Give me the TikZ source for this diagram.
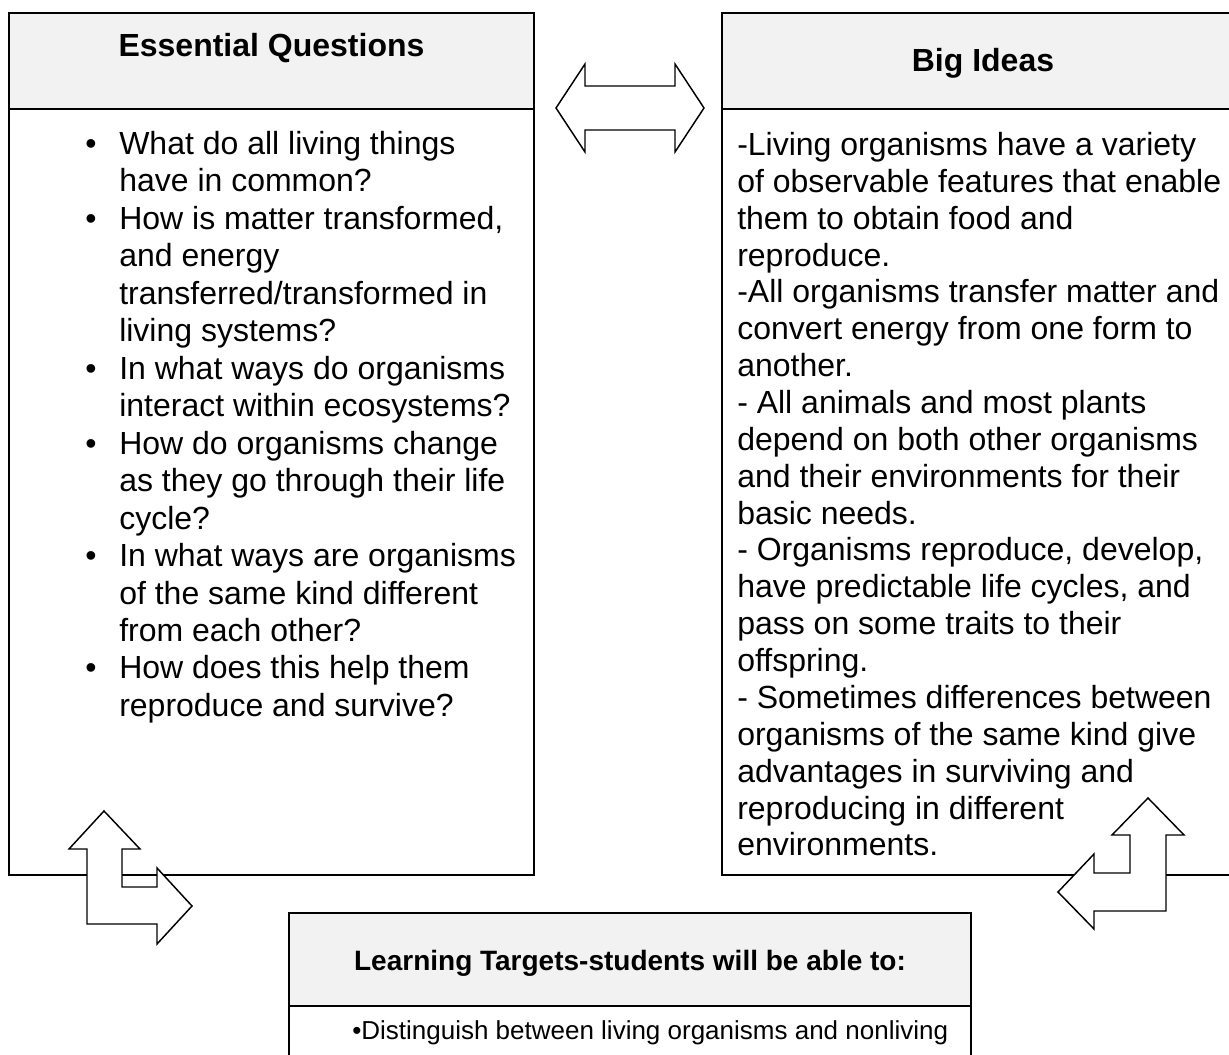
\documentclass[tikz,border=0pt]{standalone}
\usepackage{fontspec}
\setmainfont{Liberation Sans}
\definecolor{hdr}{HTML}{F2F2F2}
\newcommand\eqb{\llap{\textbullet\hspace{17pt}}}
\begin{document}
\begin{tikzpicture}[x=0.75pt,y=-0.75pt,
  panel/.style={draw, line width=1.5pt, inner sep=0pt, fill=none},
  divider/.style={line width=1.5pt},
  blockarrow/.style={draw, fill=white, line width=1.1pt, line join=miter},
  bodytext/.style={anchor=north west, inner sep=0pt, align=left, font=\fontsize{24}{27.65}\selectfont},
  titletext/.style={anchor=base, inner sep=0pt, font=\bfseries\fontsize{24}{28}\selectfont}]
\useasboundingbox (0,0) rectangle (1229,1055);
\clip (0,0) rectangle (1229,1055);
% header fills
\fill[hdr] (9,13) rectangle (534,109);
\fill[hdr] (722,13) rectangle (1245,109);
\fill[hdr] (289,913) rectangle (971,1006);
% panels
\node[panel, minimum width=393.75pt, minimum height=646.5pt] (eq) at (271.5,444) {};
\node[panel, minimum width=392.25pt, minimum height=646.5pt] (bi) at (983.5,444) {};
\node[panel, minimum width=511.5pt, minimum height=140.25pt] (lt) at (630,1006.5) {};
\draw[divider] (eq.west |- 0,109) -- (eq.east |- 0,109);
\draw[divider] (bi.west |- 0,109) -- (bi.east |- 0,109);
\draw[divider] (lt.west |- 0,1006) -- (lt.east |- 0,1006);
% titles
\node[titletext] (eqt) at (271.5,57) {Essential Questions};
\node[titletext] (bit) at (983,72) {Big Ideas};
\node[titletext, font=\bfseries\fontsize{21}{25}\selectfont] (ltt) at (630,970) {Learning Targets-students will be able to:};
% bodies
\node[bodytext, font=\fontsize{24}{28.1}\selectfont] (eqbody) at (119,131) {\eqb What do all living things\\
have in common?\\
\eqb How is matter transformed,\\
and energy\\
transferred/transformed in\\
living systems?\\
\eqb In what ways do organisms\\
interact within ecosystems?\\
\eqb How do organisms change\\
as they go through their life\\
cycle?\\
\eqb In what ways are organisms\\
of the same kind different\\
from each other?\\
\eqb How does this help them\\
reproduce and survive?};
\node[bodytext] (bibody) at (737,132) {-Living organisms have a variety\\
of observable features that enable\\
them to obtain food and\\
reproduce.\\
-All organisms transfer matter and\\
convert energy from one form to\\
another.\\
- All animals and most plants\\
depend on both other organisms\\
and their environments for their\\
basic needs.\\
- Organisms reproduce, develop,\\
have predictable life cycles, and\\
pass on some traits to their\\
offspring.\\
- Sometimes differences between\\
organisms of the same kind give\\
advantages in surviving and\\
reproducing in different\\
environments.};
\node[anchor=base west, inner sep=0pt, font=\fontsize{19.5}{23}\selectfont] (ltbody) at (352,1039) {\textbullet Distinguish between living organisms and nonliving};
% block arrows
\draw[blockarrow] (556,108) -- (585,64) -- (585,86) -- (675,86) -- (675,64) -- (704,108) -- (675,152) -- (675,130) -- (585,130) -- (585,152) -- cycle;
\draw[blockarrow] (104,811) -- (140,849) -- (122,849) -- (122,887) -- (157,887) -- (157,868) -- (192,906) -- (157,944) -- (157,924) -- (87,924) -- (87,849) -- (69,849) -- cycle;
\draw[blockarrow] (1148,798) -- (1184,835) -- (1166,835) -- (1166,911) -- (1094,911) -- (1094,929) -- (1058,892) -- (1094,854) -- (1094,873) -- (1130,873) -- (1130,835) -- (1112,835) -- cycle;
\end{tikzpicture}
\end{document}
